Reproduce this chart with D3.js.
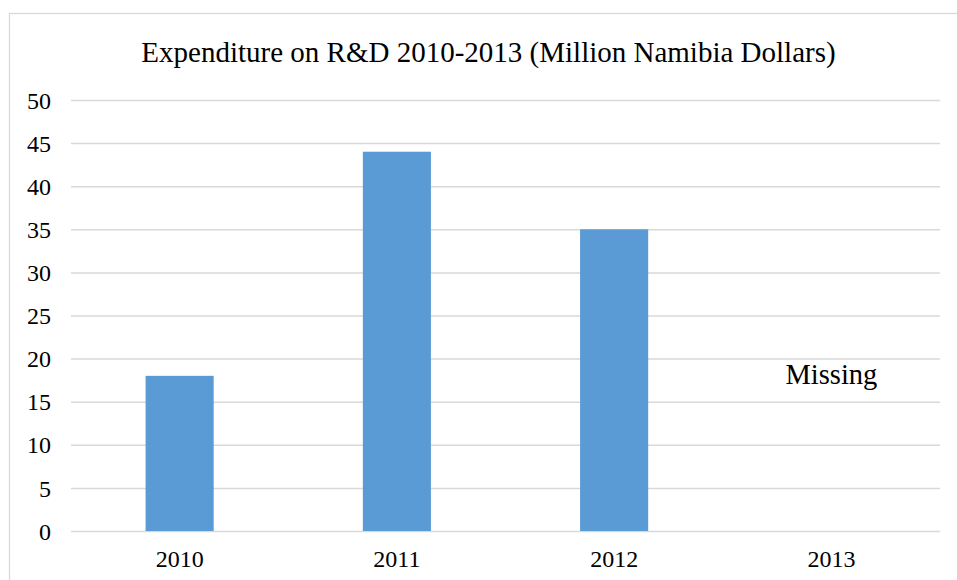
<!DOCTYPE html>
<html>
<head>
<meta charset="utf-8">
<script src="https://cdn.jsdelivr.net/npm/d3@7"></script>
<style>
  html, body { margin: 0; padding: 0; background: #fff; }
  svg { display: block; }
  text { font-family: "Liberation Serif", "Times New Roman", serif; fill: #000; }
</style>
</head>
<body>
<svg id="chart" width="957" height="580"></svg>
<script>
// R&D expenditure per year, million Namibia dollars (2013 not reported)
const years = ["2010", "2011", "2012", "2013"];
const expenditure = [18, 44, 35, null];
const yTicks = [0, 5, 10, 15, 20, 25, 30, 35, 40, 45, 50];
const titleText = "Expenditure on R&D 2010-2013 (Million Namibia Dollars)";
const missingNote = { year: "2013", value: 17, label: "Missing" };

const svg = d3.select("#chart");
const W = 957, H = 580;
const plot = { left: 71, right: 940, top: 100, bottom: 531 };

// chart frame
svg.append("rect")
  .attr("x", 9.5).attr("y", 13.5)
  .attr("width", W + 20).attr("height", H + 20)
  .attr("fill", "#fff")
  .attr("stroke", "#d9d9d9").attr("stroke-width", 1.3);

const x = d3.scaleBand()
  .domain(years)
  .range([plot.left, plot.right])
  .paddingInner(2.19 / 3.19)
  .paddingOuter(2.19 / 3.19 / 2);

const y = d3.scaleLinear()
  .domain([0, 50])
  .range([plot.bottom, plot.top]);

// horizontal gridlines + y labels
const yAxis = d3.axisLeft(y)
  .tickValues(yTicks)
  .tickSize(-(plot.right - plot.left))
  .tickPadding(20)
  .tickFormat(d3.format("d"));

const gy = svg.append("g")
  .attr("transform", `translate(${plot.left},0)`)
  .call(yAxis);
gy.select(".domain").remove();
gy.selectAll(".tick line")
  .attr("stroke", "#d9d9d9").attr("stroke-width", 1.5);
gy.selectAll(".tick text")
  .attr("font-size", 24)
  .attr("font-family", "Liberation Serif, Times New Roman, serif")
  .attr("fill", "#000")
  .attr("dy", "0.34em");

// bars
svg.append("g")
  .selectAll("rect")
  .data(years.map((yr, i) => ({ yr, v: expenditure[i] })).filter(d => d.v != null))
  .join("rect")
  .attr("x", d => x(d.yr))
  .attr("width", x.bandwidth())
  .attr("y", d => y(d.v))
  .attr("height", d => y(0) - y(d.v))
  .attr("fill", "#5b9bd5");

// x labels
const xAxis = d3.axisBottom(x).tickSize(0).tickPadding(0);
const gx = svg.append("g")
  .attr("transform", `translate(0,${plot.bottom})`)
  .call(xAxis);
gx.select(".domain").remove();
gx.selectAll(".tick text")
  .attr("font-size", 24)
  .attr("font-family", "Liberation Serif, Times New Roman, serif")
  .attr("fill", "#000")
  .attr("dy", null)
  .attr("y", 36);

// title
svg.append("text")
  .attr("x", 488.5).attr("y", 61.5)
  .attr("text-anchor", "middle")
  .attr("font-size", 29)
  .text(titleText);

// note for the unreported year
svg.append("text")
  .attr("x", x(missingNote.year) + x.bandwidth() / 2)
  .attr("y", y(missingNote.value))
  .attr("text-anchor", "middle")
  .attr("font-size", 28.5)
  .text(missingNote.label);
</script>
</body>
</html>
